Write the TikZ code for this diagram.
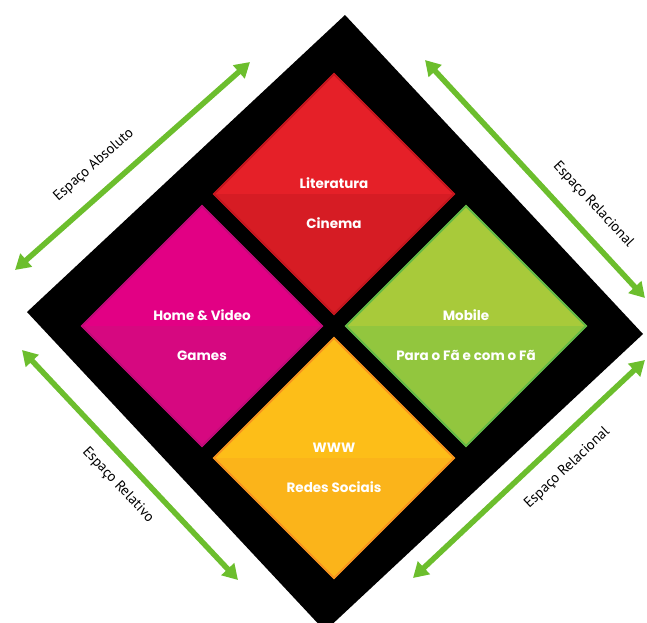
\documentclass[tikz,border=0pt]{standalone}
\usepackage{fontspec}
\usetikzlibrary{arrows.meta}
\newfontfamily\boxfont{Poppins}
\newfontfamily\sidefont{PT Sans}
\definecolor{litred}{RGB}{229,32,40}
\definecolor{litreddk}{RGB}{214,28,36}
\definecolor{litredln}{RGB}{196,22,30}
\definecolor{gamemag}{RGB}{226,0,132}
\definecolor{gamemagdk}{RGB}{214,8,128}
\definecolor{gamemagln}{RGB}{192,10,120}
\definecolor{mobgrn}{RGB}{168,202,58}
\definecolor{mobgrndk}{RGB}{146,198,62}
\definecolor{mobgrnln}{RGB}{98,184,70}
\definecolor{wwwyel}{RGB}{253,190,24}
\definecolor{wwwyeldk}{RGB}{251,180,26}
\definecolor{wwwyelln}{RGB}{246,146,30}
\definecolor{spacegrn}{RGB}{108,190,45}

\begin{document}
\begin{tikzpicture}[x=1pt, y=-1pt,
  boxtext/.style={text=white, inner sep=0pt, text height=9.5pt, text depth=0pt,
    font=\boxfont\bfseries\fontsize{13.5}{15}\selectfont},
  sidetext/.style={text=black, inner sep=0pt, font=\sidefont\fontsize{14.5}{16}\selectfont},
  spacearrow/.style={spacegrn, line width=5.5pt,
    {Triangle[length=15pt,width=17pt]}-{Triangle[length=15pt,width=17pt]}}]
\useasboundingbox (0,0) rectangle (647,622);

% black frame
\fill[black] (345,15) -- (643,334) -- (325,631) -- (27,312) -- cycle;

% the four media, two tones each
\foreach \name/\cx/\cy/\up/\dn/\ln/\first/\second in {
  lit/334/194/litred/litreddk/litredln/Literatura/Cinema,
  game/202/326/gamemag/gamemagdk/gamemagln/Home \& Video/Games,
  mob/466/326/mobgrn/mobgrndk/mobgrnln/Mobile/Para o Fã e com o Fã,
  www/334/458/wwwyel/wwwyeldk/wwwyelln/WWW/Redes Sociais}
{
  \coordinate (\name) at (\cx,\cy);
  \fill[\up] (\name) ++(-121,0) -- ++(121,-121) -- ++(121,121) -- cycle;
  \fill[\dn] (\name) ++(-121,0) -- ++(121,121) -- ++(121,-121) -- cycle;
  \draw[\ln, line width=2pt] (\name) ++(-120,0) -- ++(120,-120) -- ++(120,120)
    -- ++(-120,120) -- cycle;
  \node[boxtext] (\name a) at (\cx,\cy-10) {\first};
  \node[boxtext] (\name b) at (\cx,\cy+30) {\second};
}

% the four spaces
\coordinate (absA) at (15,270);
\coordinate (absB) at (250,62);
\coordinate (relcA) at (425,60);
\coordinate (relcB) at (645,298);
\coordinate (reltA) at (22,350);
\coordinate (reltB) at (238,580);
\coordinate (reldA) at (413,578);
\coordinate (reldB) at (645,360);

\draw[spacearrow] (absA) -- node[sidetext, pos=0.41, sloped, above=17pt] (abs) {Espaço Absoluto} (absB);
\draw[spacearrow] (relcA) -- node[sidetext, pos=0.68, sloped, above=16pt] (relc) {Espaço Relacional} (relcB);
\draw[spacearrow] (reltA) -- node[sidetext, pos=0.52, sloped, below=13pt] (relt) {Espaço Relativo} (reltB);
\draw[spacearrow] (reldA) -- node[sidetext, pos=0.59, sloped, below=16pt] (reld) {Espaço Relacional} (reldB);
\end{tikzpicture}
\end{document}
